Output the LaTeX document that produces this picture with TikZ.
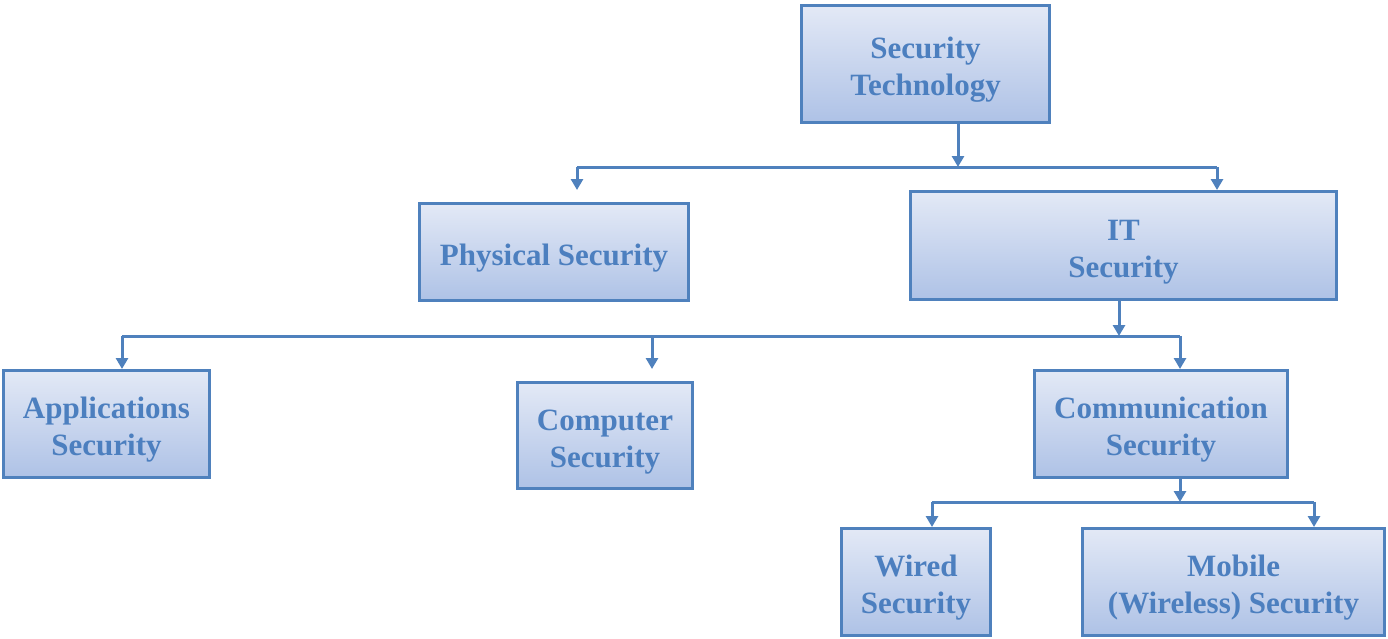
\documentclass[tikz,border=0pt]{standalone}
\usepackage{fontspec}
\setmainfont{Liberation Serif}
\usetikzlibrary{arrows.meta}
\definecolor{boxtop}{HTML}{E3E9F6}
\definecolor{boxbot}{HTML}{AEC2E6}
\definecolor{boxline}{HTML}{4F81BD}
\definecolor{txt}{HTML}{4C7FBF}
\newcommand\boxtext[1]{\raisebox{-6pt}[\height][\depth]{\begin{tabular}{@{}c@{}}#1\end{tabular}}}
\tikzset{
  box/.style={rectangle, draw=boxline, line width=3pt, top color=boxtop, bottom color=boxbot,
    inner sep=0pt, text=txt, font=\bfseries\fontsize{31}{37}\selectfont},
  ln/.style={draw=boxline, line width=3pt},
  arr/.style={ln, -{Triangle[length=11pt,width=12pt]}}
}
\begin{document}
\begin{tikzpicture}[x=1pt,y=-1pt]
\useasboundingbox (0,0) rectangle (1388,638);
\node[box, minimum width=248pt, minimum height=117pt] (st) at (925.5,64) {\boxtext{Security\\Technology}};
\node[box, minimum width=269pt, minimum height=97pt] (phys) at (554,252) {\boxtext{Physical Security}};
\node[box, minimum width=426pt, minimum height=108pt] (it) at (1123.5,245.5) {\boxtext{IT\\Security}};
\node[box, minimum width=206pt, minimum height=107pt] (app) at (106.5,424) {\boxtext{Applications\\Security}};
\node[box, minimum width=175pt, minimum height=106pt] (comp) at (605,435.5) {\boxtext{Computer\\Security}};
\node[box, minimum width=253pt, minimum height=107pt] (comm) at (1161,424) {\boxtext{Communication\\Security}};
\node[box, minimum width=149pt, minimum height=107pt] (wired) at (916,582) {\boxtext{Wired\\Security}};
\node[box, minimum width=302pt, minimum height=107pt] (mob) at (1233.5,582) {\boxtext{Mobile\\(Wireless) Security}};
% row 2
\coordinate (j1) at (958,167);
\coordinate (a1) at (577,167);
\coordinate (b1) at (1217,167);
\coordinate (a1e) at (577,190);
\draw[arr] (st.south -| j1) -- (j1);
\draw[ln] (a1) -- (b1);
\draw[arr] (a1) -- (a1e);
\draw[arr] (b1) -- (it.north -| b1);
% row 3
\coordinate (j2) at (1119,336);
\coordinate (a2) at (122,336);
\coordinate (m2) at (652,336);
\coordinate (b2) at (1180,336);
\coordinate (m2e) at (652,369);
\draw[arr] (it.south -| j2) -- (j2);
\draw[ln] (a2) -- (b2);
\draw[arr] (a2) -- (app.north -| a2);
\draw[arr] (m2) -- (m2e);
\draw[arr] (b2) -- (comm.north -| b2);
% row 4
\coordinate (j3) at (1180,502);
\coordinate (a3) at (932,502);
\coordinate (b3) at (1314,502);
\draw[arr] (comm.south -| j3) -- (j3);
\draw[ln] (a3) -- (b3);
\draw[arr] (a3) -- (wired.north -| a3);
\draw[arr] (b3) -- (mob.north -| b3);
\end{tikzpicture}
\end{document}
